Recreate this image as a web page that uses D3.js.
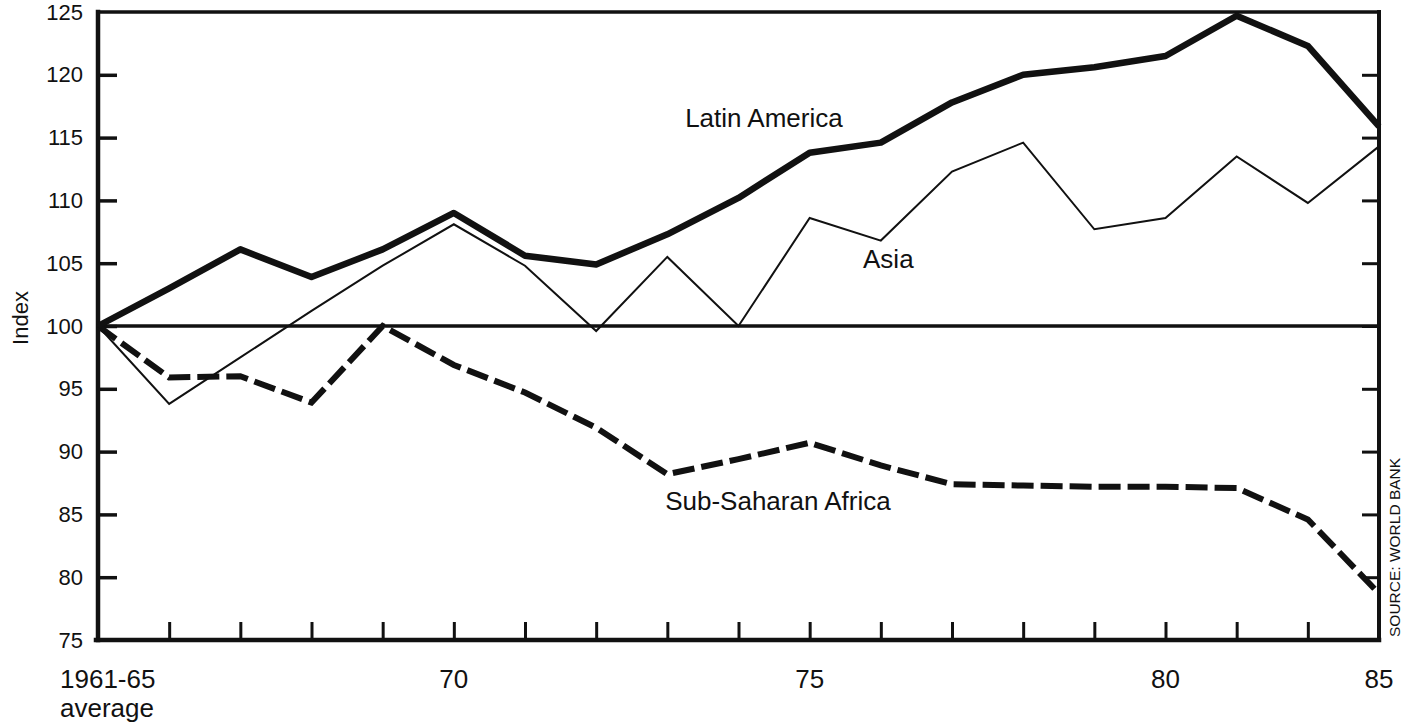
<!DOCTYPE html>
<html><head><meta charset="utf-8">
<script src="https://cdn.jsdelivr.net/npm/d3@7"></script>
<style>
body{margin:0;background:#fff}
svg{display:block}
text{font-family:"Liberation Sans",Arial,Helvetica,sans-serif;fill:#111}
</style>
</head><body>
<svg id="c" width="1411" height="725"></svg>
<script>
// ---- data ----
const categories = ["1961-65 average","66","67","68","69","70","71","72","73","74","75","76","77","78","79","80","81","82","85"];
const latinAmerica = [100,103,106.1,103.9,106.1,109,105.6,104.9,107.3,110.2,113.8,114.6,117.8,120,120.6,121.5,124.7,122.3,115.9];
const asia         = [100,93.8,97.5,101.2,104.8,108.1,104.8,99.6,105.5,100,108.6,106.8,112.3,114.6,107.7,108.6,113.5,109.8,114.3];
const africa       = [100,95.9,96,93.9,100,96.9,94.7,91.9,88.2,89.4,90.7,88.9,87.4,87.3,87.2,87.2,87.1,84.6,78.7];
const yTicks = [75,80,85,90,95,100,105,110,115,120,125];
const xLabelIndex = [0,5,10,15,18];
const xLabelText  = [["1961-65","average"],["70"],["75"],["80"],["85"]];
const seriesNames = ["Latin America","Asia","Sub-Saharan Africa"];
const labelAt = [[8.25,115.85],[10.75,104.6],[7.97,85.35]]; // in data units (index, value)

// ---- layout ----
const svg = d3.select("#c");
const x = d3.scaleLinear().domain([0, categories.length-1]).range([98, 1379]);
const y = d3.scaleLinear().domain([75,125]).range([640,12]);
const ink = "#111";

// y axis left (ticks point inward)
const gy = svg.append("g").attr("transform",`translate(${x(0)},0)`)
  .call(d3.axisLeft(y).tickValues(yTicks).tickSize(-19).tickPadding(15).tickFormat(d3.format("d")));
gy.select(".domain").remove();
gy.selectAll("line").attr("stroke",ink).attr("stroke-width",3.5);
gy.selectAll("text").attr("font-size",22).attr("fill",ink);
gy.selectAll(".tick").filter(d=>d===75||d===125).select("line").remove();

// right ticks (inward)
const gr = svg.append("g").attr("transform",`translate(${x(categories.length-1)},0)`)
  .call(d3.axisRight(y).tickValues(yTicks.filter(d=>d>75&&d<125)).tickSize(-17).tickFormat(""));
gr.select(".domain").remove();
gr.selectAll("line").attr("stroke",ink).attr("stroke-width",3);

// x axis ticks (inward)
const gx = svg.append("g").attr("transform",`translate(0,${y(75)})`)
  .call(d3.axisBottom(x).tickValues(d3.range(1,categories.length-1)).tickSize(-18).tickFormat(""));
gx.select(".domain").remove();
gx.selectAll("line").attr("stroke",ink).attr("stroke-width",3);

// x labels
xLabelIndex.forEach((idx,k)=>{
  const lines = xLabelText[k];
  const t = svg.append("text").attr("font-size",26).attr("fill",ink)
    .attr("text-anchor", idx===0 ? "start" : "middle")
    .attr("x", idx===0 ? x(idx)-38 : x(idx))
    .attr("y", y(75)+48);
  lines.forEach((s,j)=>{
    t.append("tspan").attr("x", idx===0 ? x(idx)-38 : x(idx)).attr("dy", j===0?0:29).text(s);
  });
});

// frame
const frame = svg.append("g").attr("stroke",ink).attr("fill","none").attr("stroke-linecap","square");
frame.append("line").attr("x1",x(0)).attr("x2",x(18)).attr("y1",y(125)).attr("y2",y(125)).attr("stroke-width",3.5);
frame.append("line").attr("x1",x(18)).attr("x2",x(18)).attr("y1",y(125)).attr("y2",y(75)).attr("stroke-width",4);
frame.append("line").attr("x1",x(0)).attr("x2",x(0)).attr("y1",y(125)).attr("y2",y(75)).attr("stroke-width",4.5);
frame.append("line").attr("x1",x(0)-2).attr("x2",x(18)).attr("y1",y(75)).attr("y2",y(75)).attr("stroke-width",4.5);
// 100 baseline
frame.append("line").attr("x1",x(0)).attr("x2",x(18)).attr("y1",y(100)).attr("y2",y(100)).attr("stroke-width",3.5);

// series
const line = d3.line().x((d,i)=>x(i)).y(d=>y(d));
svg.append("path").datum(africa).attr("d",line).attr("fill","none").attr("stroke",ink)
  .attr("stroke-width",6).attr("stroke-dasharray","22,7").attr("stroke-linejoin","miter");
svg.append("path").datum(asia).attr("d",line).attr("fill","none").attr("stroke",ink)
  .attr("stroke-width",2).attr("stroke-linejoin","miter");
svg.append("path").datum(latinAmerica).attr("d",line).attr("fill","none").attr("stroke",ink)
  .attr("stroke-width",6.5).attr("stroke-linejoin","round");

// series labels
seriesNames.forEach((n,k)=>{
  svg.append("text").attr("x",x(labelAt[k][0])).attr("y",y(labelAt[k][1]))
    .attr("font-size",26).attr("fill",ink).text(n);
});

// axis title
svg.append("text").attr("transform",`translate(28,${y(100)-8}) rotate(-90)`)
  .attr("text-anchor","middle").attr("font-size",22).attr("fill",ink).text("Index");

// source
svg.append("text").attr("transform",`translate(1400,${y(75)-3}) rotate(-90)`)
  .attr("text-anchor","start").attr("font-size",15.5).attr("fill",ink).text("SOURCE: WORLD BANK");
</script>
</body></html>
